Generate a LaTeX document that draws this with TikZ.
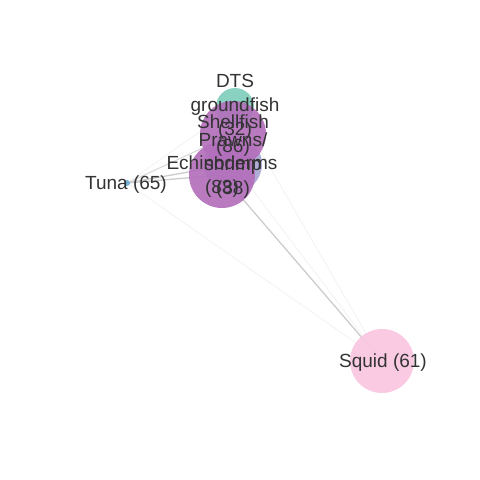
\documentclass[tikz,border=0pt]{standalone}
\usepackage{fontspec}
\setmainfont{Liberation Sans}
\usetikzlibrary{backgrounds}
\definecolor{txt}{HTML}{333333}
\definecolor{cteal}{HTML}{7FCDBB}
\definecolor{cpurple}{HTML}{B36FBB}
\definecolor{clav}{HTML}{A9A6D6}
\definecolor{cblue}{HTML}{6BAED6}
\definecolor{cpink}{HTML}{F9C6E0}
\definecolor{edgec}{HTML}{CCCCCC}
\begin{document}
\begin{tikzpicture}[x=1pt,y=-1pt,
  blob/.style={circle,inner sep=0pt,draw=none,fill opacity=0.92},
  lab/.style={text=txt,align=center,inner sep=0pt,font=\fontsize{19}{24}\selectfont},
  edgestrong/.style={draw=edgec,line width=1.3pt},
  edgemid/.style={draw=edgec!75,line width=1.1pt},
  edgefaint/.style={draw=edgec!25,line width=0.8pt}]
\useasboundingbox (0,0) rectangle (480,480);
% nodes
\node[blob,fill=cteal,minimum size=38pt] (dts) at (235,107) {};
\node[blob,fill=clav,minimum size=58pt] (prawn) at (233,164) {};
\node[blob,fill=cpurple,minimum size=66pt] (shell) at (233,134) {};
\node[blob,fill=cpurple,minimum size=66pt] (echi) at (222,175) {};
\node[blob,fill=cblue,minimum size=6pt] (tuna) at (127,183) {};
\node[blob,fill=cpink,minimum size=64pt] (squid) at (382,361) {};
% edges
\begin{scope}[on background layer]
\draw[edgemid] (tuna.center) -- (shell.center);
\draw[edgefaint] (tuna.center) -- (dts.center);
\draw[edgestrong] (tuna.center) -- (prawn.center);
\draw[edgestrong] (tuna.center) -- (echi.center);
\draw[edgefaint] (tuna.center) -- (squid.center);
\draw[edgestrong] (echi.center) -- (squid.center);
\draw[edgefaint] (prawn.center) -- (squid.center);
\draw[edgefaint] (dts.center) -- (squid.center);
\end{scope}
% labels
\node[lab] (ldts) at (235,107) {DTS\\groundfish\\(32)};
\node[lab] (lshell) at (233,136) {Shellfish\\(86)};
\node[lab] (lprawn) at (233,166) {Prawns/\\shrimp\\(88)};
\node[lab] (lechi) at (222,177) {Echinoderms\\(83)};
\node[lab] (ltuna) at (126,184.5) {Tuna (65)};
\node[lab] (lsquid) at (383,362.5) {Squid (61)};
\end{tikzpicture}
\end{document}
